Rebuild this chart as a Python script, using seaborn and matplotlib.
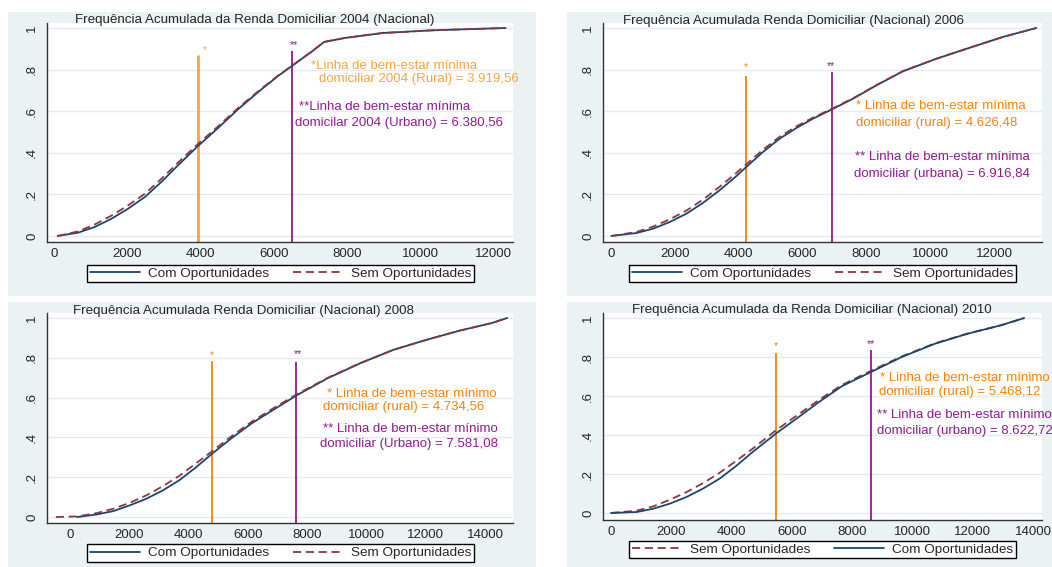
import matplotlib
matplotlib.use("Agg")
import matplotlib.pyplot as plt
from matplotlib.patches import Rectangle
import numpy as np
import pandas as pd
import seaborn as sns

# cumulative household income curves
renda_04 = [100, 660, 1110, 1570, 2020, 2480, 2930, 3385, 3930, 4475, 5020, 5570, 6110, 6550, 7020, 7370, 7930, 8970, 10340, 12320]
com_04 = [0, 0.016, 0.043, 0.083, 0.131, 0.1875, 0.26, 0.34, 0.433, 0.519, 0.609, 0.692, 0.769, 0.825, 0.885, 0.933, 0.952, 0.976, 0.989, 1.0]
sem_04 = [0, 0.022, 0.055, 0.098, 0.147, 0.203, 0.275, 0.353, 0.443, 0.527, 0.615, 0.696, 0.771, 0.826, 0.886, 0.933, 0.952, 0.976, 0.989, 1.0]

renda_06 = [10, 794, 1316, 1838, 2360, 2882, 3405, 3927, 4240, 4762, 5285, 5806, 6328, 6924, 7581, 8312, 9148, 10191, 11237, 12281, 13324]
com_06 = [0, 0.014, 0.035, 0.067, 0.107, 0.159, 0.22, 0.288, 0.332, 0.404, 0.468, 0.519, 0.564, 0.609, 0.66, 0.724, 0.792, 0.852, 0.905, 0.957, 1.0]
sem_06 = [0, 0.019, 0.045, 0.08, 0.122, 0.175, 0.237, 0.303, 0.345, 0.415, 0.477, 0.527, 0.569, 0.612, 0.662, 0.725, 0.793, 0.852, 0.905, 0.957, 1.0]

renda_com_08 = [240, 911, 1467, 2022, 2578, 3133, 3689, 4244, 4800, 5467, 6133, 6800, 7633, 8689, 9800, 10911, 12022, 13133, 14244, 14750]
com_08 = [0, 0.013, 0.03, 0.059, 0.092, 0.134, 0.185, 0.249, 0.319, 0.398, 0.471, 0.533, 0.61, 0.697, 0.773, 0.84, 0.89, 0.936, 0.975, 1.0]
renda_sem_08 = [-478, 240, 911, 1467, 2022, 2578, 3133, 3689, 4244, 4800, 5467, 6133, 6800, 7633, 8689, 9800, 10911, 12022, 13133, 14244, 14750]
sem_08 = [0, 0.003, 0.02, 0.042, 0.072, 0.109, 0.155, 0.207, 0.269, 0.331, 0.408, 0.479, 0.541, 0.615, 0.699, 0.774, 0.84, 0.89, 0.936, 0.975, 1.0]

renda_10 = [0, 857, 1406, 1955, 2504, 3053, 3602, 4151, 4701, 5469, 6128, 6897, 7666, 8621, 9643, 10741, 11840, 12938, 13707]
com_10 = [0, 0.005, 0.022, 0.048, 0.082, 0.125, 0.176, 0.241, 0.313, 0.407, 0.481, 0.569, 0.651, 0.723, 0.8, 0.868, 0.92, 0.963, 1.0]
sem_10 = [0, 0.012, 0.034, 0.068, 0.107, 0.153, 0.206, 0.267, 0.33, 0.424, 0.496, 0.58, 0.657, 0.729, 0.803, 0.87, 0.921, 0.963, 1.0]

# poverty lines: x position and top of the drawn line
linha_rural = [3930, 4240, 4800, 5469]
topo_rural = [0.871, 0.77, 0.782, 0.822]
linha_urbana = [6490, 6924, 7633, 8621]
topo_urbana = [0.89, 0.786, 0.78, 0.834]

titulos = [
    "Frequência Acumulada da Renda Domiciliar 2004 (Nacional)",
    "Frequência Acumulada Renda Domiciliar (Nacional) 2006",
    "Frequência Acumulada Renda Domiciliar (Nacional) 2008",
    "Frequência Acumulada da Renda Domiciliar (Nacional) 2010",
]
textos_rural = [
    ("*Linha de bem-estar mínima", "domiciliar 2004 (Rural) = 3.919,56"),
    ("* Linha de bem-estar mínima", "domiciliar (rural) = 4.626,48"),
    ("* Linha de bem-estar mínimo", "domiciliar (rural) = 4.734,56"),
    ("* Linha de bem-estar mínimo", "domiciliar (rural) = 5.468,12"),
]
textos_urbana = [
    ("**Linha de bem-estar mínima", "domicilar 2004 (Urbano) = 6.380,56"),
    ("** Linha de bem-estar mínima", "domiciliar (urbana) = 6.916,84"),
    ("** Linha de bem-estar mínimo", "domiciliar (Urbano) = 7.581,08"),
    ("** Linha de bem-estar mínimo", "domiciliar (urbano) = 8.622,72"),
]

COM = "Com Oportunidades"
SEM = "Sem Oportunidades"

W, H = 1052, 567
BG = "#eaf2f3"
NAVY = "#1a476f"
MAROON = "#90353b"
ORANGE = "#ff8000"
PURPLE = "#931893"

sns.set_style("white")
plt.rcParams["font.family"] = ["Liberation Sans", "DejaVu Sans"]

fig = plt.figure(figsize=(W / 100, H / 100), dpi=100)
fig.patch.set_facecolor("white")

# light panels behind each graph (pixel boxes)
for (x0, y0, x1, y1) in [(8, 12, 536, 296), (567, 12, 1052, 296), (8, 302, 536, 567), (567, 302, 1052, 567)]:
    fig.patches.append(Rectangle((x0 / W, 1 - y1 / H), (x1 - x0) / W, (y1 - y0) / H,
                                 transform=fig.transFigure, facecolor=BG, edgecolor="none", zorder=-5))


def px_axes(l, t, r, b):
    return fig.add_axes([l / W, 1 - b / H, (r - l) / W, (b - t) / H])


paineis = [
    dict(box=(47, 23, 513, 242), xlim=(-190, 12520), ylim=(-0.029, 1.024), xmax=12000,
         com=(renda_04, com_04), sem=(renda_04, sem_04), order=[COM, SEM],
         leg=(280.5, 273.5), title=(75, 20), orange="#fba33f", olw=2.0,
         star=(4110, 0.895), stars=(6555, 0.916),
         tr=[(7020, 0.815), (7230, 0.754)], tu=[(6680, 0.619), (6580, 0.545)]),
    dict(box=(603, 23, 1042, 242), xlim=(-251, 13503), ylim=(-0.029, 1.024), xmax=12000,
         com=(renda_06, com_06), sem=(renda_06, sem_06), order=[COM, SEM],
         leg=(822.5, 273.5), title=(623, 21), orange=ORANGE, olw=1.3,
         star=(4240, 0.81), stars=(6890, 0.815),
         tr=[(7660, 0.627), (7660, 0.545)], tu=[(7640, 0.381), (7610, 0.30)]),
    dict(box=(47, 313, 513, 523), xlim=(-776, 14946), ylim=(-0.03, 1.025), xmax=14000,
         com=(renda_com_08, com_08), sem=(renda_sem_08, sem_08), order=[COM, SEM],
         leg=(280.5, 553), title=(73, 311), orange=ORANGE, olw=1.3,
         star=(4800, 0.812), stars=(7680, 0.817),
         tr=[(8667, 0.617), (8522, 0.553)], tu=[(8522, 0.444), (8422, 0.368)]),
    dict(box=(603, 313, 1042, 520), xlim=(-265, 14300), ylim=(-0.036, 1.026), xmax=14000,
         com=(renda_10, com_10), sem=(renda_10, sem_10), order=[SEM, COM],
         leg=(822.5, 549.5), title=(632, 310), orange=ORANGE, olw=1.3,
         star=(5469, 0.855), stars=(8630, 0.868),
         tr=[(8929, 0.694), (8896, 0.62)], tu=[(8819, 0.504), (8819, 0.419)]),
]

for i, p in enumerate(paineis):
    ax = px_axes(*p["box"])
    ax.set_facecolor("white")
    df = pd.concat([
        pd.DataFrame({"renda": p["com"][0], "freq": p["com"][1], "grupo": COM}),
        pd.DataFrame({"renda": p["sem"][0], "freq": p["sem"][1], "grupo": SEM}),
    ], ignore_index=True)
    sns.lineplot(data=df, x="renda", y="freq", hue="grupo", style="grupo",
                 hue_order=p["order"], style_order=p["order"],
                 palette={COM: NAVY, SEM: MAROON},
                 dashes={COM: "", SEM: (4.5, 2.6)}, linewidth=1.3,
                 estimator=None, ax=ax)

    ax.set_xlim(*p["xlim"])
    ax.set_ylim(*p["ylim"])
    yb = p["ylim"][0]
    ax.vlines(linha_rural[i], yb, topo_rural[i], color=p["orange"], lw=p["olw"], zorder=1)
    ax.vlines(linha_urbana[i], yb, topo_urbana[i], color=PURPLE, lw=1.3, zorder=1)
    ax.text(*p["star"], "*", color=p["orange"], fontsize=7.5, ha="center", va="center")
    ax.text(*p["stars"], "**", color=PURPLE, fontsize=7.5, ha="center", va="center")
    for (x, y), s in zip(p["tr"], textos_rural[i]):
        ax.text(x, y, s, color=p["orange"], fontsize=9.5, ha="left", va="center")
    for (x, y), s in zip(p["tu"], textos_urbana[i]):
        ax.text(x, y, s, color=PURPLE, fontsize=9.5, ha="left", va="center")

    ax.set_xticks(np.arange(0, p["xmax"] + 1, 2000))
    ax.set_xticklabels([str(v) for v in range(0, p["xmax"] + 1, 2000)])
    ax.set_yticks([0, 0.2, 0.4, 0.6, 0.8, 1])
    ax.set_yticklabels(["0", ".2", ".4", ".6", ".8", "1"], rotation=90, va="center")
    ax.set_xlabel("")
    ax.set_ylabel("")
    ax.yaxis.grid(True, color="#e3ecee", lw=1.0)
    ax.set_axisbelow(True)
    for s in ["top", "right"]:
        ax.spines[s].set_visible(False)
    for s in ["left", "bottom"]:
        ax.spines[s].set_color("#333333")
        ax.spines[s].set_linewidth(1.0)
    ax.tick_params(axis="x", length=3.1, width=1.0, color="#333333", labelsize=9.5, pad=1.5)
    ax.tick_params(axis="y", length=3.1, width=1.0, color="#333333", labelsize=9.5, pad=3.2)

    cx, cy = p["leg"]
    sns.move_legend(ax, "center", bbox_to_anchor=(cx / W, 1 - cy / H),
                    bbox_transform=fig.transFigure, ncol=2, title=None, frameon=True,
                    fancybox=False, edgecolor="black", framealpha=1, fontsize=9.7,
                    handlelength=3.7, handletextpad=0.6, columnspacing=1.8,
                    borderpad=0.2, borderaxespad=0)
    leg = ax.get_legend()
    leg.get_frame().set_linewidth(1.0)

    tx, ty = p["title"]
    fig.text(tx / W, 1 - ty / H, titulos[i], fontsize=9.6, ha="left", va="center", zorder=5)

fig.savefig("out.png", dpi=100)
